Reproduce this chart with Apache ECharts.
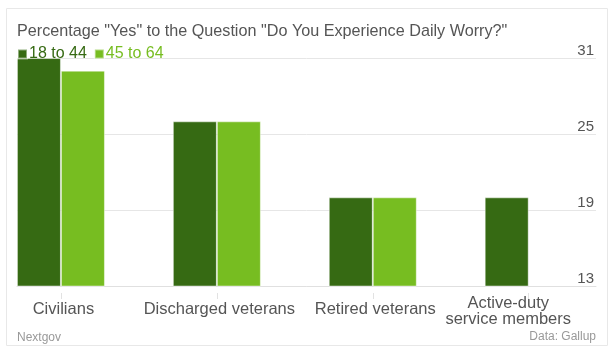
<!DOCTYPE html>
<html>
<head>
<meta charset="utf-8">
<script src="https://cdn.jsdelivr.net/npm/echarts@6/dist/echarts.min.js"></script>
<style>html,body{margin:0;padding:0;background:#fff;}#c{width:615px;height:354px;}</style>
</head>
<body>
<div id="c"></div>
<script>
const categories = ['Civilians', 'Discharged veterans', 'Retired veterans', 'Active-duty\nservice members'];
const young = [31, 26, 20, 20];
const older = [30, 26, 20, null];
const yTicks = [13, 19, 25, 31];
const seriesNames = ['18 to 44', '45 to 64'];
const titleText = 'Percentage "Yes" to the Question "Do You Experience Daily Worry?"';

const DARK = '#366a13', LIGHT = '#77bd21';
const FONT = '"Liberation Sans", Arial, Helvetica, sans-serif';
const catIdx = categories.map((c, i) => i);
const xMin = -0.2817, xMax = 3.4315;

const chart = echarts.init(document.getElementById('c'), null, {renderer: 'canvas'});
chart.setOption({
  animation: false,
  textStyle: {fontFamily: FONT},
  title: {
    text: titleText, left: 12, top: 19,
    textStyle: {fontSize: 16.2, fontWeight: 'normal', color: '#555', fontFamily: FONT}
  },
  legend: {
    left: 12, top: 41, itemWidth: 9, itemHeight: 9, itemGap: 7, icon: 'rect',
    data: [
      {name: seriesNames[0], textStyle: {color: DARK}},
      {name: seriesNames[1], textStyle: {color: LIGHT}}
    ],
    textStyle: {fontSize: 16, fontFamily: FONT, padding: [0, 0, 0, -3]}
  },
  grid: {left: 17, top: 58, width: 580, height: 228},
  xAxis: [
    {
      type: 'value', position: 'bottom', min: xMin, max: xMax,
      axisLine: {show: true, onZero: false, lineStyle: {color: '#e0e0e0', width: 1}},
      axisTick: {show: false}, splitLine: {show: false},
      axisLabel: {
        customValues: catIdx, margin: 10, interval: 0,
        formatter: v => {
          const i = Math.round(v);
          const c = categories[i];
          return c.indexOf('\n') >= 0 ? '{m|' + c.split('\n').join('}\n{m|') + '}' : '{s|' + c + '}';
        },
        rich: {
          s: {fontSize: 16.5, color: '#555', lineHeight: 27.5, padding: [0, 0, 0, 5], fontFamily: FONT},
          m: {fontSize: 16.5, color: '#555', lineHeight: 15.5, padding: [0, 41, 0, 0], fontFamily: FONT}
        }
      }
    },
    {
      type: 'value', position: 'bottom', min: xMin, max: xMax, offset: 7,
      axisLine: {show: false}, axisLabel: {show: false}, splitLine: {show: false},
      axisTick: {show: true, customValues: catIdx, length: 6, lineStyle: {color: '#e2e2e2'}}
    }
  ],
  yAxis: {
    type: 'value', position: 'right',
    min: yTicks[0], max: yTicks[yTicks.length - 1], interval: 6,
    axisLine: {show: false}, axisTick: {show: false},
    splitLine: {lineStyle: {color: '#e6e6e6'}},
    axisLabel: {inside: true, margin: 2, verticalAlign: 'bottom', fontSize: 15, color: '#555', fontFamily: FONT}
  },
  series: [
    {
      name: seriesNames[0], type: 'bar', xAxisIndex: 0, data: young.map((v, i) => [i, v]),
      barWidth: 44, barGap: '0%',
      itemStyle: {color: DARK, borderColor: 'rgba(255,255,255,0.45)', borderWidth: 1}
    },
    {
      name: seriesNames[1], type: 'bar', xAxisIndex: 0, data: older.map((v, i) => [i, v]),
      barWidth: 44, barGap: '0%',
      itemStyle: {color: LIGHT, borderColor: 'rgba(255,255,255,0.45)', borderWidth: 1}
    }
  ],
  graphic: [
    {type: 'rect', shape: {x: 6.5, y: 8.5, width: 601, height: 337}, style: {fill: null, stroke: '#e8e8e8', lineWidth: 1}, silent: true, z: -1},
    {type: 'text', left: 17, top: 332, style: {text: 'Nextgov', fill: '#999', font: '12px ' + FONT}},
    {type: 'text', right: 19, top: 331, style: {text: 'Data: Gallup', fill: '#999', font: '12px ' + FONT}}
  ]
});
</script>
</body>
</html>
